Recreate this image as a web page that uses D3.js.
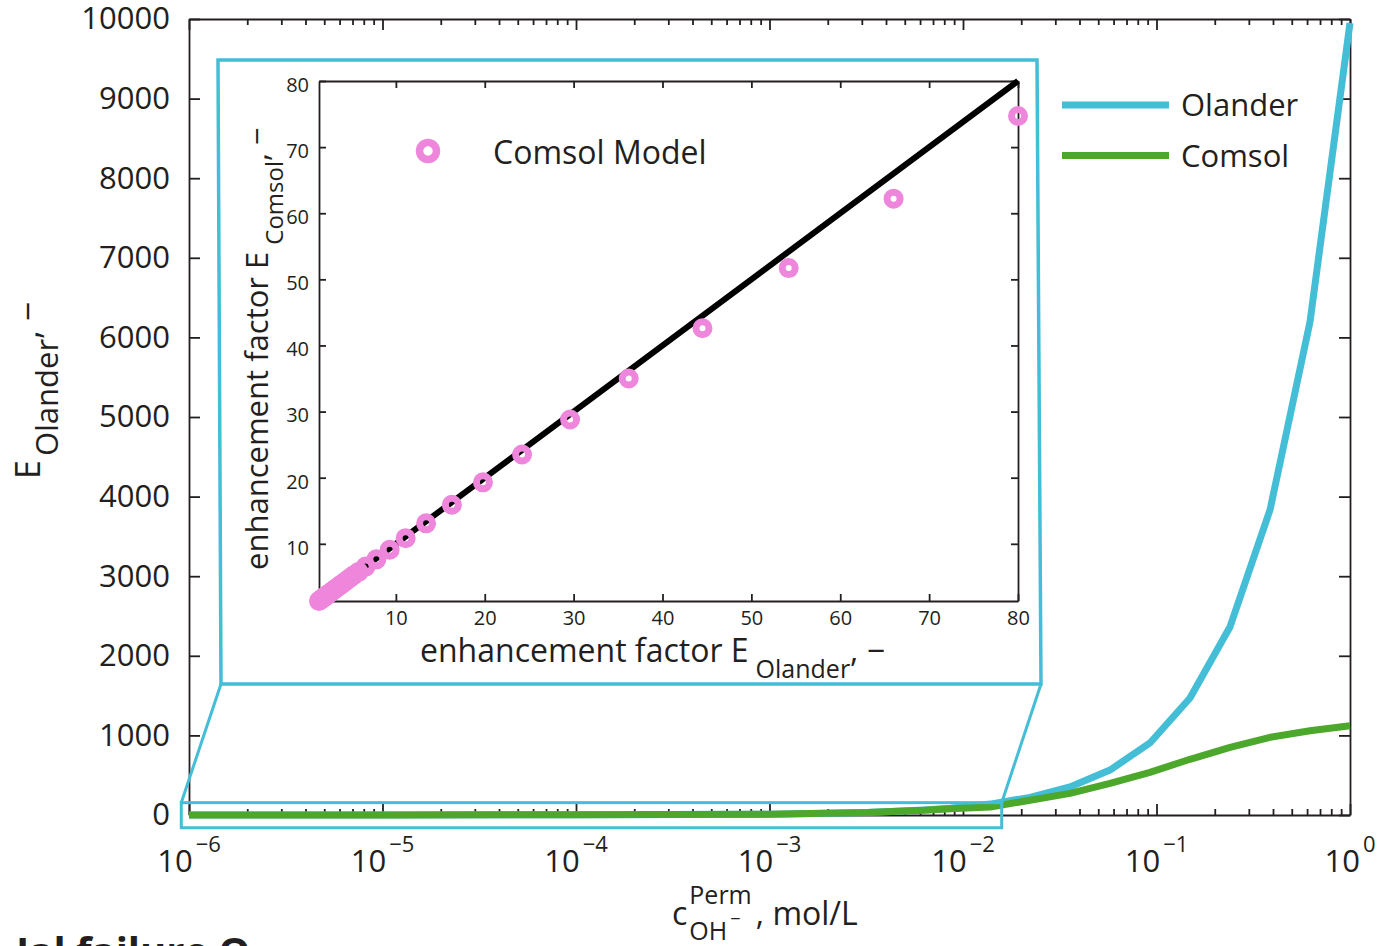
<!DOCTYPE html>
<html><head><meta charset="utf-8">
<script src="https://cdn.jsdelivr.net/npm/d3@7"></script>
<style>
body{margin:0;background:#fff;}
svg{display:block;font-family:"Open Sans",sans-serif;}
</style></head><body>
<svg id="c" width="1379" height="946"></svg>
<script>
// ---------------- data ----------------
// main chart: permeate OH- concentration (mol/L) vs enhancement factor
const concentration = [1e-6, 1e-5, 1e-4, 1e-3, 0.0032, 0.0063, 0.0086, 0.0138, 0.0222, 0.0357, 0.0575, 0.0925, 0.149, 0.240, 0.386, 0.621, 1.0];
const olanderValues = [1, 1.1, 2, 10, 32, 63, 86, 137, 221, 352, 565, 905, 1470, 2366, 3832, 6193, 9950];
const comsolValues  = [1, 1.1, 2, 10, 31, 60, 78, 100, 185, 272, 398, 536, 700, 850, 976, 1059, 1120];
const seriesNames = ["Olander", "Comsol"];
const xTickExponents = [-6, -5, -4, -3, -2, -1, 0];
const yTicks = [0, 1000, 2000, 3000, 4000, 5000, 6000, 7000, 8000, 9000, 10000];
// inset: E_Olander vs E_Comsol
const insetOlander = [1.35, 1.5, 1.7, 1.9, 2.1, 2.35, 2.6, 2.9, 3.2, 3.55, 3.9, 4.3, 4.75, 5.2, 5.8, 6.6, 7.8, 9.3, 11.1, 13.4, 16.3, 19.8, 24.2, 29.6, 36.2, 44.5, 54.2, 66.0, 80.0];
const insetComsol  = [1.35, 1.5, 1.7, 1.9, 2.1, 2.35, 2.6, 2.9, 3.2, 3.55, 3.9, 4.3, 4.75, 5.2, 5.75, 6.55, 7.65, 9.1, 10.85, 13.1, 15.9, 19.3, 23.5, 28.8, 35.0, 42.6, 51.7, 62.2, 74.7];
const insetTicks = [10, 20, 30, 40, 50, 60, 70, 80];
const insetDomain = [1.35, 80];
// zoomed region shown by the inset (data coords of the main chart)
const zoomX = [Math.pow(10, -6.04), Math.pow(10, -1.80)];
const zoomY = [-160, 155];

// ---------------- style ----------------
const ink = "#231f20", cyan = "#43bed6", green = "#4ca82a", pink = "#ee86db";
const FONT = '"Open Sans", sans-serif';

const svg = d3.select("#c");
const M = {left: 189, right: 1350, top: 19, bottom: 815};
const x = d3.scaleLog().domain([1e-6, 1]).range([M.left, M.right]);
const y = d3.scaleLinear().domain([0, 10000]).range([M.bottom, M.top]);

const majorX = xTickExponents.map(e => Math.pow(10, e));
const minorX = [];
xTickExponents.slice(0, -1).forEach(e => { for (let k = 2; k <= 9; k++) minorX.push(k * Math.pow(10, e)); });

function styleAxis(g, size) {
  g.attr("font-family", FONT).attr("font-size", size);
  g.selectAll("path, line").attr("stroke", ink).attr("stroke-width", 1.8);
  g.selectAll("text").attr("fill", ink);
}

// main axes
svg.append("g").attr("transform", `translate(0,${M.bottom})`)
  .call(d3.axisBottom(x).tickValues(majorX).tickSize(-11).tickSizeOuter(0).tickFormat(""))
  .call(g => styleAxis(g, 31));
svg.append("g").attr("transform", `translate(0,${M.bottom})`)
  .call(d3.axisBottom(x).tickValues(minorX).tickSize(-6).tickSizeOuter(0).tickFormat(""))
  .call(g => { g.select(".domain").remove(); styleAxis(g, 31); });
svg.append("g").attr("transform", `translate(0,${M.top})`)
  .call(d3.axisTop(x).tickValues(majorX).tickSize(-11).tickSizeOuter(0).tickFormat(""))
  .call(g => styleAxis(g, 31));
svg.append("g").attr("transform", `translate(0,${M.top})`)
  .call(d3.axisTop(x).tickValues(minorX).tickSize(-6).tickSizeOuter(0).tickFormat(""))
  .call(g => { g.select(".domain").remove(); styleAxis(g, 31); });
svg.append("g").attr("transform", `translate(${M.left},0)`)
  .call(d3.axisLeft(y).tickValues(yTicks).tickSize(-11).tickPadding(19).tickSizeOuter(0).tickFormat(d3.format("d")))
  .call(g => styleAxis(g, 31));
svg.append("g").attr("transform", `translate(${M.right},0)`)
  .call(d3.axisRight(y).tickValues(yTicks).tickSize(-11).tickSizeOuter(0).tickFormat(""))
  .call(g => styleAxis(g, 31));

// log tick labels 10^n
const xl = svg.append("g").attr("font-family", FONT).attr("fill", ink);
xTickExponents.forEach(e => {
  const t = xl.append("text").attr("x", x(Math.pow(10, e))).attr("y", 872)
    .attr("text-anchor", "middle").attr("font-size", 31);
  t.append("tspan").text("10");
  t.append("tspan").attr("dy", -20).attr("dx", 3).attr("font-size", 22)
    .text(e < 0 ? "\u2212" + Math.abs(e) : String(e));
});

// axis titles
(function () {
  const g = svg.append("g").attr("font-family", FONT).attr("fill", ink)
    .attr("transform", "translate(672,925)");
  const c = g.append("text").attr("font-size", 32).text("c");
  const cw = c.node().getComputedTextLength();
  const sup = g.append("text").attr("x", cw + 2).attr("y", -21).attr("font-size", 25).text("Perm");
  const pw = sup.node().getComputedTextLength();
  const sub = g.append("text").attr("x", cw + 2).attr("y", 15).attr("font-size", 25).text("OH");
  const sw = sub.node().getComputedTextLength();
  const m = g.append("text").attr("x", cw + 2 + sw + 3).attr("y", 0).attr("font-size", 18).text("\u2212");
  const mw = m.node().getComputedTextLength();
  const restX = cw + 2 + Math.max(pw, sw + 3 + mw) + 4;
  g.append("text").attr("x", restX).attr("font-size", 32).text(", mol/L");
})();
(function () {
  const g = svg.append("g").attr("font-family", FONT).attr("fill", ink)
    .attr("transform", "translate(40,479) rotate(-90)");
  const t = g.append("text").attr("font-size", 34);
  t.append("tspan").text("E");
  t.append("tspan").attr("dy", 18).attr("dx", 4).attr("font-size", 31).text("Olander");
  t.append("tspan").attr("dy", -18).text(", \u2212");
})();

// curves
const mainData = concentration.map((c, i) => ({c, o: olanderValues[i], m: comsolValues[i]}));
const lineO = d3.line().x(d => x(d.c)).y(d => y(d.o));
const lineC = d3.line().x(d => x(d.c)).y(d => y(d.m));
svg.append("path").datum(mainData).attr("d", lineO).attr("fill", "none")
  .attr("stroke", cyan).attr("stroke-width", 7).attr("stroke-linejoin", "round");
svg.append("path").datum(mainData).attr("d", lineC).attr("fill", "none")
  .attr("stroke", green).attr("stroke-width", 7).attr("stroke-linejoin", "round");

// main legend
const lg = svg.append("g").attr("font-family", FONT).attr("font-size", 31).attr("fill", ink);
[cyan, green].forEach((col, i) => {
  const yy = 105 + i * 50.5;
  lg.append("line").attr("x1", 1062).attr("x2", 1169).attr("y1", yy).attr("y2", yy)
    .attr("stroke", col).attr("stroke-width", 7);
  lg.append("text").attr("x", 1181).attr("y", yy).attr("dy", "0.36em").text(seriesNames[i]);
});

// ---------------- inset ----------------
const I = {left: 319, right: 1018, top: 81, bottom: 601};
const ix = d3.scaleLinear().domain(insetDomain).range([I.left, I.right]);
const iy = d3.scaleLinear().domain(insetDomain).range([I.bottom, I.top]);

// zoom rectangle on the main chart
const zx0 = x(zoomX[0]), zx1 = x(zoomX[1]), zy0 = y(zoomY[1]), zy1 = y(zoomY[0]);
const frame = [[I.left - 101, I.top - 21], [I.right + 19, I.top - 21], [I.right + 23, I.bottom + 83], [I.left - 98, I.bottom + 83]];
svg.append("line").attr("x1", frame[3][0]).attr("y1", frame[3][1]).attr("x2", zx0).attr("y2", zy0)
  .attr("stroke", cyan).attr("stroke-width", 3);
svg.append("line").attr("x1", frame[2][0]).attr("y1", frame[2][1]).attr("x2", zx1).attr("y2", zy0)
  .attr("stroke", cyan).attr("stroke-width", 3);
svg.append("rect").attr("x", zx0).attr("y", zy0).attr("width", zx1 - zx0).attr("height", zy1 - zy0)
  .attr("fill", "none").attr("stroke", cyan).attr("stroke-width", 3);
svg.append("path").attr("d", "M" + frame.map(p => p.join(",")).join("L") + "Z")
  .attr("fill", "#fff").attr("stroke", cyan).attr("stroke-width", 3.5).attr("stroke-linejoin", "miter");

const ig = svg.append("g");
ig.append("g").attr("transform", `translate(0,${I.bottom})`)
  .call(d3.axisBottom(ix).tickValues(insetTicks).tickSize(-7).tickPadding(10).tickSizeOuter(0))
  .call(g => styleAxis(g, 20));
ig.append("g").attr("transform", `translate(0,${I.top})`)
  .call(d3.axisTop(ix).tickValues(insetTicks).tickSize(-7).tickSizeOuter(0).tickFormat(""))
  .call(g => styleAxis(g, 20));
ig.append("g").attr("transform", `translate(${I.left},0)`)
  .call(d3.axisLeft(iy).tickValues(insetTicks).tickSize(-7).tickPadding(10).tickSizeOuter(0))
  .call(g => { styleAxis(g, 20); g.selectAll("text").attr("dy", "0.52em"); });
ig.append("g").attr("transform", `translate(${I.right},0)`)
  .call(d3.axisRight(iy).tickValues(insetTicks).tickSize(-7).tickSizeOuter(0).tickFormat(""))
  .call(g => styleAxis(g, 20));

// parity line
ig.append("line").attr("x1", ix(insetDomain[0])).attr("y1", iy(insetDomain[0]))
  .attr("x2", ix(insetDomain[1])).attr("y2", iy(insetDomain[1]))
  .attr("stroke", "#000").attr("stroke-width", 6);
// comsol markers
const insetData = insetOlander.map((v, i) => ({o: v, c: insetComsol[i]}));
ig.selectAll("circle.pt").data(insetData).join("circle").attr("class", "pt")
  .attr("cx", d => ix(d.o)).attr("cy", d => iy(d.c)).attr("r", 6.5)
  .attr("fill", "none").attr("stroke", pink).attr("stroke-width", 7);

// inset legend
ig.append("circle").attr("cx", I.left + 109).attr("cy", I.top + 70).attr("r", 8.5)
  .attr("fill", "none").attr("stroke", pink).attr("stroke-width", 7.5);
ig.append("text").attr("x", I.left + 174).attr("y", I.top + 71).attr("dy", "0.36em")
  .attr("font-family", FONT).attr("font-size", 32).attr("fill", ink).text("Comsol Model");

// inset titles
(function () {
  const t = ig.append("text").attr("x", 420).attr("y", 662).attr("font-family", FONT)
    .attr("font-size", 32).attr("fill", ink);
  t.append("tspan").text("enhancement factor E");
  t.append("tspan").attr("dy", 16).attr("dx", 7).attr("font-size", 25).text("Olander");
  t.append("tspan").attr("dy", -16).text(", \u2212");
})();
(function () {
  const g = ig.append("g").attr("transform", "translate(268,570) rotate(-90)");
  const t = g.append("text").attr("font-family", FONT).attr("font-size", 31).attr("fill", ink);
  t.append("tspan").text("enhancement factor E");
  t.append("tspan").attr("dy", 15).attr("dx", 7).attr("font-size", 24).text("Comsol");
  t.append("tspan").attr("dy", -15).text(", \u2212");
})();

// cropped caption text at the page bottom
svg.append("text").attr("x", 16).attr("y", 966).attr("font-family", FONT)
  .attr("font-weight", "bold").attr("font-size", 40).attr("fill", ink).text("Ial failure O");
</script>
</body></html>
